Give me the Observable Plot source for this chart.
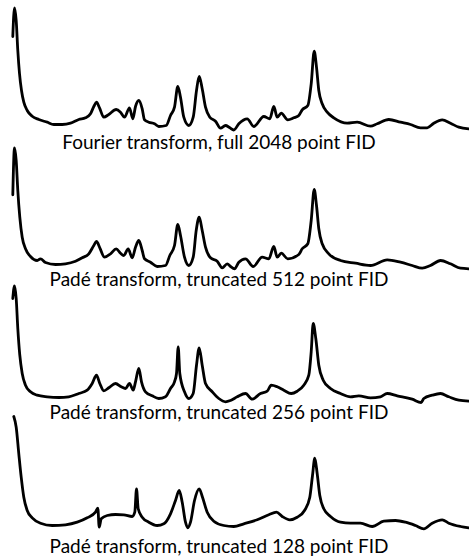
<!DOCTYPE html>
<html>
<head>
<meta charset="utf-8">
<script src="https://cdn.jsdelivr.net/npm/d3@7"></script>
<script src="https://cdn.jsdelivr.net/npm/@observablehq/plot@0.6"></script>
<style>
  html, body { margin: 0; padding: 0; background: #fff; }
  #chart svg { display: block; }
</style>
</head>
<body>
<div id="chart"></div>
<script>
// Spectrum labels
const labels = [
  "Fourier transform, full 2048 point FID",
  "Padé transform, truncated 512 point FID",
  "Padé transform, truncated 256 point FID",
  "Padé transform, truncated 128 point FID"
];

// Vertical stacking offset of each spectrum's baseline (stacked intensity units)
const offsets = [432, 292, 159, 30];

// Spectrum 1: Fourier transform, full 2048 point FID
const s1x = [12.3,14,15.7,17.3,19,21,23.3,26.7,31.7,38.3,46.7,53.3,61.7,70,78.3,85,90,93.3,96,99,103.3,108.3,115.7,120,124,129,132.3,135,138.3,141.7,144,148.3,154,158.3,165.7,170,174,177.3,180,183.3,188.3,192.7,196,198.7,201.7,205,209.3,215,220,225,229,233.3,238.3,246.7,253.3,263.3,269.3,273.3,276.7,280.7,287.3,293.3,298.3,301.7,307.3,310.7,313.7,316,318.3,321.7,326.7,333.3,346.7,356.7,370,376.7,388.3,400,410,420,426.7,433.3,441.7,450,458.3,468.3];
const s1y = [89,117.7,105,75,52,35,23.3,15,9.3,6,3.3,1,1,2.3,6,7.7,11.7,19,23.3,17.7,8.3,11,16,13.3,8.3,17.7,6.7,19,25,16.7,5.7,3.3,1.7,-1,0,10,18.3,39,28.3,8.3,0,8.3,35,49,36.7,18.3,8.3,4.3,-2.7,0,-2,-4.5,1.7,6.7,-1,9,6.7,19,8.3,12.3,5.7,7.7,10,15.7,20,41.7,74.3,58.3,35,21.7,13.3,7.7,2.3,3.3,-0.7,1.7,6,3.3,1,-2.3,-2.3,2.3,5.7,2.3,-1.7,-3.3];

// Spectrum 2: Padé transform, truncated 512 point FID
const s2x = [12.3,14,15.7,17.3,19.3,21.7,25,30,36.7,40,45,55,65,75,81.7,88.3,93.3,96,99.3,104,110,115.7,120,123.3,127.7,131.7,135,138.3,141.7,144,150,156.7,165,169.3,174,177.3,180,184,188.3,192.7,195.7,198.7,201.7,205,210,216.7,221.7,226.7,230,234,238.3,245,252.7,261.7,268.3,273.3,276.7,280.7,287.3,298.3,301.7,307.3,310.7,313.7,316,318.3,321.7,328.3,340,355,370,386.7,400,411.7,421.7,430,440,450,460,468.3];
const s2y = [70.7,117.7,105,75,48.3,28.3,16.7,9,5,6.7,3,1,1.7,4.3,7.7,11.7,20,24,17.7,8.3,11.7,16.7,12.3,10,16.7,7.7,18.3,25,15,6.7,3.3,-1,0,10,20,41,30,8.3,0,8.3,35,48.3,35,18.3,7.7,4.3,-2.3,1.7,-1,-3.3,3.3,6.7,-1,8.3,6.7,19,8.3,12.3,6.7,11,16.7,21.7,45,76,60,36.7,21.7,11.7,5,2.3,0,5.7,3.3,0,-2.7,0,5,1.7,-2.7,-3.3];

// Spectrum 3: Padé transform, truncated 256 point FID
const s3x = [12.3,14,15.7,17.3,19.3,21.7,25,30,36.7,46.7,58.3,68.3,78.3,86.7,91.7,96,99.3,103.3,108.3,115,120.7,125,129,132.7,135,138.3,141,145,151.7,158.3,165,170,174,176,177.7,179.3,184,188.3,192.7,196,198.7,201.7,205,211.7,218.3,225,230,236.7,245,251.7,260,266.7,270.7,276.7,283.3,290.7,296.7,303.3,308.3,310.7,312.7,315.3,318.3,322.7,330,340,350,358.3,370,380,386.7,396.7,411.7,420.7,423.3,431.7,440,448.3,458.3,468.3];
const s3y = [100,112.7,100,70,43.3,25,13.3,6.7,3.3,1.7,1,1.7,5,8.3,15,23.3,15,7.7,10.7,15,11.7,10,15,8.3,16.7,30,16.7,6.7,2.7,0,1.7,10,16.7,25,51.7,25,6.7,0,5,33.3,50.7,33.3,15,6.7,0,-3.3,-2,1.7,5,-0.7,5,7.3,13.3,11.7,8.3,5,7.3,13.3,23.3,46.7,75,60,33.3,18.3,10,5,1.7,2.7,0.7,1.7,5,2.7,-0.7,-4,0,3.3,5,1.7,-1.7,-2.7];

// Spectrum 4: Padé transform, truncated 128 point FID
const s4x = [13.3,15.7,18.3,20.7,23.3,26.7,31.7,40,51.7,65,76.7,86.7,95,97.3,98.7,100.7,106.7,115,123.3,131.7,134.3,136,137.7,141.7,148.3,156.7,163.3,170,175,178.7,181.7,185,187.3,190,194,198.7,202,206.7,213.3,223.3,233.3,243.3,256.7,268.3,276,281.7,289.3,296.7,304,309.3,312,314.3,316.7,319.3,323.3,330,340,350,360,371.7,383.3,395,405,415,423.3,431.7,441.7,448.3,460,468.3];
const s4y = [111,100.3,73.7,50.3,30.3,17,9.7,4.3,2,2.7,5.3,9.7,15.3,19.3,0.3,8.7,12,13,12.7,11,15.3,38.7,18.7,10.3,5.3,2,3.7,13.7,27,37,25.3,5.3,-0.3,5.3,27,38.7,30.3,15.3,6.3,2,1,3.7,7.7,12.7,15.3,11,7.7,10.3,17,30.3,52,69.3,53.7,32,18.7,11,5.3,4.3,4.3,1,6.3,7,5.3,2,-1.3,4.3,7.7,4.3,1,-0.3];

const xs = [s1x, s2x, s3x, s4x];
const ys = [s1y, s2y, s3y, s4y];

const points = [];
xs.forEach((xa, i) => xa.forEach((x, j) => points.push({series: i, x, v: offsets[i] + ys[i][j]})));
const caps = labels.map((label, i) => ({label, series: i, y: offsets[i]}));
const captionDy = [23, 20, 20, 25];

const W = 469, H = 557;
const chart = Plot.plot({
  width: W,
  height: H,
  margin: 0,
  x: {domain: [0, W], axis: null},
  y: {domain: [0, H], axis: null},
  style: {background: "#fff"},
  marks: [
    Plot.line(points, {x: "x", y: "v", z: "series", curve: "monotone-x", stroke: "#000", strokeWidth: 2.8, strokeLinejoin: "round", strokeLinecap: "round"}),
    ...caps.map((c, i) => Plot.text([c], {
      x: () => 218.5, y: "y", text: "label", textAnchor: "middle", lineAnchor: "bottom",
      dy: captionDy[i], fontSize: 19, fontFamily: "Lato", fill: "#000"
    }))
  ]
});
document.getElementById("chart").appendChild(chart);
</script>
</body>
</html>
